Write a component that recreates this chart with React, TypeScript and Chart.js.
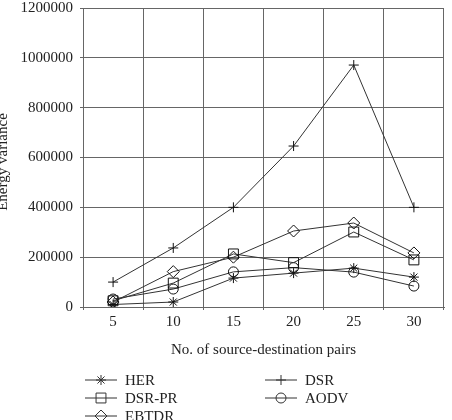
import React, { useEffect, useRef } from 'react';
import { Chart, registerables } from 'chart.js';
import { drawPoint } from 'chart.js/helpers';

Chart.register(...registerables);

const pairs = ['5', '10', '15', '20', '25', '30'];
const herValues = [10000, 20000, 116000, 136000, 156000, 120000];
const dsrValues = [100000, 237000, 400000, 646000, 971000, 400000];
const dsrPrValues = [25000, 96000, 213000, 178000, 301000, 189000];
const aodvValues = [32000, 72000, 141000, 158000, 140000, 84000];
const ebtdrValues = [20000, 142000, 200000, 305000, 337000, 217000];

const FONT = '"Liberation Serif", "Times New Roman", serif';
const INK = '#222222';
const LINE = '#333333';
const GRID = '#666666';

const legendPlugin = {
  id: 'gridLegend',
  afterDraw(chart: any) {
    const ctx = chart.ctx;
    const cols = [85, 265];
    const rows = [380, 398, 416];
    chart.data.datasets.forEach((ds: any, i: number) => {
      const x0 = cols[i % 2];
      const y = rows[Math.floor(i / 2)];
      ctx.save();
      ctx.strokeStyle = ds.borderColor;
      ctx.lineWidth = 1;
      ctx.beginPath();
      ctx.moveTo(x0, y);
      ctx.lineTo(x0 + 32, y);
      ctx.stroke();
      ctx.fillStyle = 'rgba(0,0,0,0)';
      drawPoint(ctx, { pointStyle: ds.pointStyle, radius: ds.pointRadius, rotation: 0, borderWidth: 1 }, x0 + 16, y);
      ctx.fillStyle = INK;
      ctx.font = '15px ' + FONT;
      ctx.textAlign = 'left';
      ctx.textBaseline = 'middle';
      ctx.fillText(ds.label, x0 + 40, y + 1);
      ctx.restore();
    });
  },
};

const yTitlePlugin = {
  id: 'yTitle',
  afterDraw(chart: any) {
    const ctx = chart.ctx;
    ctx.save();
    ctx.translate(7, 162);
    ctx.rotate(-Math.PI / 2);
    ctx.fillStyle = INK;
    ctx.font = '15px ' + FONT;
    ctx.textAlign = 'center';
    ctx.textBaseline = 'alphabetic';
    ctx.fillText('Energy variance', 0, 0);
    ctx.restore();
  },
};

function makeSet(label: string, data: number[], pointStyle: string, pointRadius: number) {
  return {
    label,
    data,
    pointStyle,
    pointRadius,
    pointHoverRadius: pointRadius,
    borderColor: LINE,
    pointBorderColor: '#111111',
    pointBackgroundColor: 'rgba(0,0,0,0)',
    backgroundColor: 'rgba(0,0,0,0)',
    borderWidth: 1,
    pointBorderWidth: 1,
    tension: 0,
    fill: false,
  };
}

export default function App() {
  const ref = useRef<HTMLCanvasElement | null>(null);
  useEffect(() => {
    if (!ref.current) return;
    const chart = new Chart(ref.current, {
      type: 'line',
      data: {
        labels: pairs,
        datasets: [
          makeSet('HER', herValues, 'star', 5),
          makeSet('DSR', dsrValues, 'cross', 5),
          makeSet('DSR-PR', dsrPrValues, 'rect', 7),
          makeSet('AODV', aodvValues, 'circle', 5),
          makeSet('EBTDR', ebtdrValues, 'rectRot', 6),
        ],
      },
      options: {
        responsive: false,
        animation: false,
        layout: { padding: { left: 10, right: 1, top: 0, bottom: 61 } },
        plugins: {
          legend: { display: false },
          tooltip: { enabled: false },
        },
        scales: {
          x: {
            offset: true,
            grid: { offset: true, color: GRID, lineWidth: 1, tickLength: 3 },
            border: { color: GRID },
            ticks: { color: INK, font: { family: FONT, size: 15 }, padding: 3, maxRotation: 0 },
            title: {
              display: true,
              text: 'No. of source-destination pairs',
              color: INK,
              font: { family: FONT, size: 15 },
              padding: { top: 0, bottom: 0 },
            },
            afterFit: (s: any) => { s.height = 52; },
          },
          y: {
            min: 0,
            max: 1200000,
            grid: { color: GRID, lineWidth: 1, tickLength: 3 },
            border: { color: GRID },
            ticks: {
              stepSize: 200000,
              color: INK,
              font: { family: FONT, size: 15 },
              padding: 7,
              callback: (v: any) => String(v),
            },
            afterFit: (s: any) => { s.width = 73; s.paddingTop = 8; s.paddingBottom = 0; },
          },
        },
      },
      plugins: [legendPlugin, yTitlePlugin],
    });
    return () => chart.destroy();
  }, []);
  return (
    <div style={{ position: 'fixed', left: 0, top: 0, width: 452, height: 420, background: '#fff' }}>
      <canvas ref={ref} width={452} height={420} style={{ width: 452, height: 420, display: 'block' }} />
    </div>
  );
}
